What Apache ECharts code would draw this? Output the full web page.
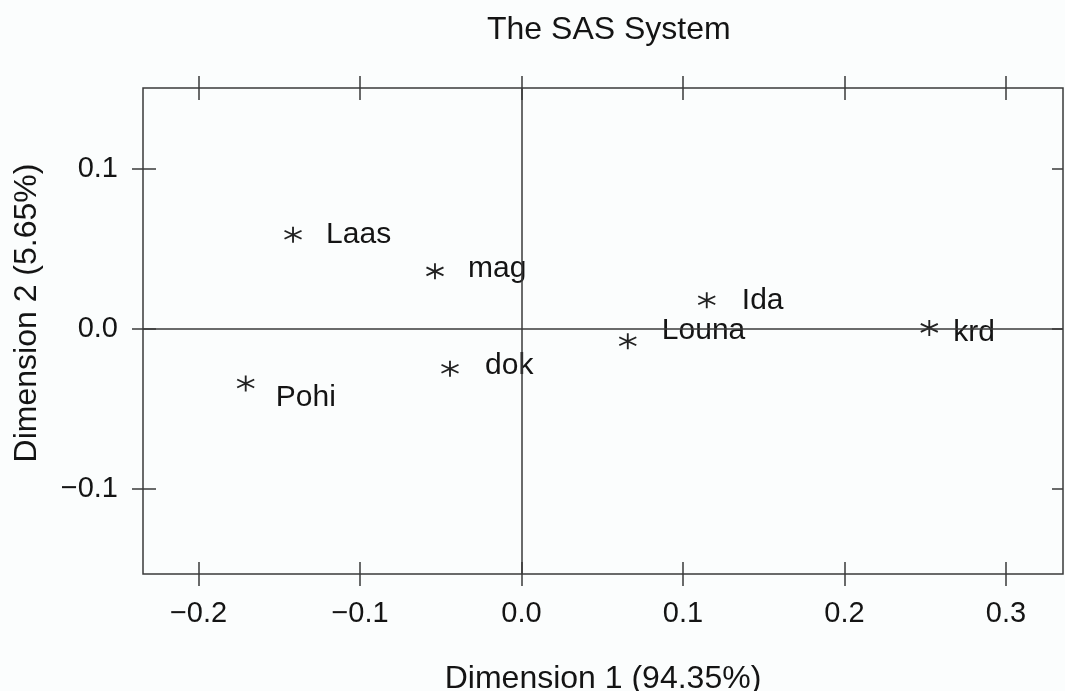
<!DOCTYPE html>
<html>
<head>
<meta charset="utf-8">
<script src="https://cdn.jsdelivr.net/npm/echarts@6/dist/echarts.min.js"></script>
<style>
html,body{margin:0;padding:0;background:#fbfdfd;}
#chart{width:1065px;height:691px;}
</style>
</head>
<body>
<div id="chart"></div>
<script>
// ---- data ----
const names = ['Laas', 'mag', 'dok', 'Pohi', 'Ida', 'Louna', 'krd'];
const dim1  = [-0.1415, -0.0536, -0.0443, -0.1708, 0.1147, 0.0658, 0.2525];
const dim2  = [0.0589, 0.0360, -0.0248, -0.0340, 0.0179, -0.0076, 0.0007];
const xTicks = [-0.2, -0.1, 0.0, 0.1, 0.2, 0.3];
const xTickLabels = ['−0.2', '−0.1', '0.0', '0.1', '0.2', '0.3'];
const yTicks = [-0.1, 0.0, 0.1];
const yTickLabels = ['−0.1', '0.0', '0.1'];
const titleText = 'The SAS System';
const xName = 'Dimension 1 (94.35%)';
const yName = 'Dimension 2 (5.65%)';

// ---- style (label placement per point, pixels) ----
const labelOffsets = {
  Laas: [30, 0], mag: [30, -3], dok: [32, -3], Pohi: [27, 14],
  Ida: [32, 0], Louna: [31, -10], krd: [21, 5]
};

const FONT = 'Arial, "Liberation Sans", Helvetica, sans-serif';
const INK = '#141414';
const LINE = '#3a3a3a';
const xMin = -0.2344, xMax = 0.3353, yMin = -0.153, yMax = 0.1505;

function labelFor(v, ticks, labels) {
  for (let i = 0; i < ticks.length; i++) {
    if (Math.abs(ticks[i] - v) < 1e-9) return labels[i];
  }
  return '';
}

function xAx(pos, inside, labels) {
  return {
    type: 'value', position: pos, min: xMin, max: xMax,
    axisLine: { show: false, onZero: false },
    splitLine: { show: false },
    axisTick: { show: true, inside: inside, length: 12, customValues: xTicks,
      lineStyle: { color: LINE, width: 1.5 } },
    axisLabel: labels ? {
      show: true, margin: 25, color: INK, fontSize: 29, fontFamily: FONT,
      customValues: xTicks,
      formatter: v => labelFor(v, xTicks, xTickLabels)
    } : { show: false },
    name: labels ? xName : '',
    nameLocation: 'middle', nameGap: 89,
    nameTextStyle: { color: INK, fontSize: 32, fontFamily: FONT }
  };
}
function yAx(pos, inside, labels, len) {
  return {
    type: 'value', position: pos, min: yMin, max: yMax,
    axisLine: { show: false, onZero: false },
    splitLine: { show: false },
    axisTick: { show: true, inside: inside, length: len, customValues: yTicks,
      lineStyle: { color: LINE, width: 1.5 } },
    axisLabel: labels ? {
      show: true, margin: 25, color: INK, fontSize: 29, fontFamily: FONT,
      customValues: yTicks,
      formatter: v => labelFor(v, yTicks, yTickLabels)
    } : { show: false },
    name: labels ? yName : '',
    nameLocation: 'middle', nameGap: 100, nameRotate: 90,
    nameTextStyle: { color: INK, fontSize: 32, fontFamily: FONT, padding: [0, 0, 0, 36] }
  };
}

const points = names.map((n, i) => ({
  name: n,
  value: [dim1[i], dim2[i]],
  label: { offset: [labelOffsets[n][0] - 8, labelOffsets[n][1]] }
}));

const chart = echarts.init(document.getElementById('chart'), null, { renderer: 'canvas' });
chart.setOption({
  backgroundColor: '#fbfdfd',
  animation: false,
  title: {
    text: titleText, left: 482, top: 9,
    textStyle: { color: INK, fontSize: 32, fontWeight: 'normal', fontFamily: FONT }
  },
  grid: {
    left: 143, right: 2, top: 88, bottom: 117,
    show: true, borderColor: LINE, borderWidth: 1.5, backgroundColor: 'transparent',
    outerBoundsMode: 'none', containLabel: false
  },
  xAxis: [xAx('bottom', false, true), xAx('bottom', true, false), xAx('top', false, false), xAx('top', true, false)],
  yAxis: [yAx('left', false, true, 11), yAx('left', true, false, 13), yAx('right', true, false, 11)],
  series: [{
    type: 'scatter',
    xAxisIndex: 0, yAxisIndex: 0,
    symbol: 'path://M8,0 L8,16 M1,4 L15,12 M1,12 L15,4',
    symbolSize: [17, 16],
    itemStyle: { color: 'none', borderColor: '#222', borderWidth: 1.8, opacity: 1 },
    label: {
      show: true, position: 'right', distance: 0,
      formatter: p => p.name,
      color: INK, fontSize: 30, fontFamily: FONT
    },
    data: points,
    markLine: {
      silent: true, symbol: ['none', 'none'],
      label: { show: false },
      lineStyle: { color: LINE, width: 1.5, type: 'solid' },
      data: [{ xAxis: 0 }, { yAxis: 0 }]
    },
    z: 3
  }]
});
</script>
</body>
</html>
